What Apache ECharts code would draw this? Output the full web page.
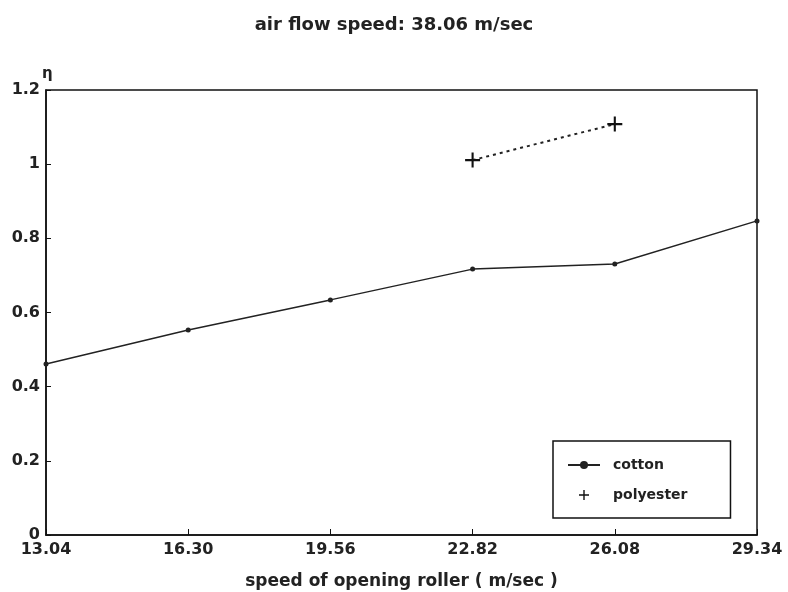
<!DOCTYPE html>
<html>
<head>
<meta charset="utf-8">
<script src="https://cdn.jsdelivr.net/npm/echarts@6/dist/echarts.min.js"></script>
<style>
  html, body { margin: 0; padding: 0; background: #fff; }
  #chart { width: 788px; height: 592px; }
</style>
</head>
<body>
<div id="chart"></div>
<script>
const speeds = ["13.04", "16.30", "19.56", "22.82", "26.08", "29.34"];
const cotton = [0.461, 0.553, 0.634, 0.717, 0.731, 0.847];
const polyester = [null, null, null, 1.011, 1.108, null];
const yTicks = [0, 0.2, 0.4, 0.6, 0.8, 1, 1.2];

const FONT = "DejaVu Sans";
const plusPath = "path://M4.3,0 H5.7 V4.3 H10 V5.7 H5.7 V10 H4.3 V5.7 H0 V4.3 H4.3 Z";

const chart = echarts.init(document.getElementById("chart"));

chart.setOption({
    backgroundColor: "#fff",
    animation: false,
    title: {
        text: "air flow speed: 38.06 m/sec",
        left: "center",
        top: 11,
        textStyle: { fontFamily: FONT, fontWeight: "bold", fontSize: 18, color: "#222" }
    },
    legend: {
        orient: "vertical",
        left: 553,
        top: 441,
        padding: [17, 43, 16, 14],
        itemGap: 16,
        itemWidth: 32,
        itemHeight: 10,
        borderColor: "#111",
        borderWidth: 1.5,
        textStyle: { fontFamily: FONT, fontWeight: "bold", fontSize: 14, color: "#222", padding: [0, 0, 0, 8] },
        data: [
            { name: "cotton" },
            { name: "polyester", icon: plusPath, itemStyle: { color: "#111" } }
        ]
    },
    grid: {
        left: 46,
        right: 31,
        top: 90,
        bottom: 57,
        outerBoundsMode: "none",
        show: true,
        borderColor: "#111",
        borderWidth: 1.5
    },
    xAxis: {
        type: "category",
        data: speeds,
        boundaryGap: false,
        name: "speed of opening roller ( m/sec )",
        nameLocation: "middle",
        nameGap: 38,
        nameTextStyle: { fontFamily: FONT, fontWeight: "bold", fontSize: 17, color: "#222" },
        axisLine: { lineStyle: { color: "#111", width: 1.5 } },
        axisTick: { inside: true, length: 6, lineStyle: { color: "#111" } },
        axisLabel: { fontFamily: FONT, fontWeight: "bold", fontSize: 16, color: "#222", margin: 7 },
        splitLine: { show: false }
    },
    yAxis: {
        type: "value",
        min: 0,
        max: 1.2,
        interval: 0.2,
        name: "η",
        nameGap: 8,
        nameTextStyle: { fontFamily: FONT, fontWeight: "bold", fontSize: 15, color: "#222", align: "left", padding: [0, 0, 0, -4] },
        axisLine: { show: true, lineStyle: { color: "#111", width: 1.5 } },
        axisTick: { show: true, inside: true, length: 5, lineStyle: { color: "#111" } },
        axisLabel: {
            fontFamily: FONT, fontWeight: "bold", fontSize: 16, color: "#222", margin: 6,
            formatter: v => {
                const t = yTicks.find(k => Math.abs(k - v) < 1e-6);
                return t === undefined ? "" : String(t);
            }
        },
        splitLine: { show: false }
    },
    series: [
        {
            name: "cotton",
            type: "line",
            data: cotton,
            symbol: "circle",
            symbolSize: 5,
            itemStyle: { color: "#222" },
            lineStyle: { color: "#222", width: 1.5 }
        },
        {
            name: "polyester",
            type: "line",
            data: polyester,
            symbol: plusPath,
            symbolSize: 15,
            itemStyle: { color: "#111" },
            lineStyle: { color: "#222", width: 2, type: [3, 4] }
        }
    ]
});
</script>
</body>
</html>
